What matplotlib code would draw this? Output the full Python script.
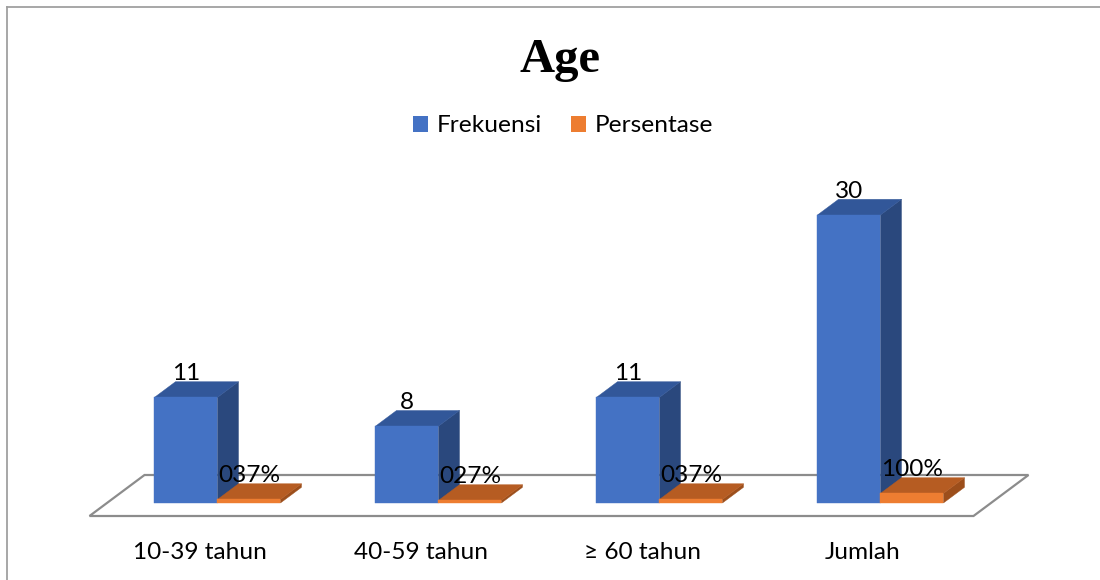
import matplotlib
matplotlib.use("Agg")
import matplotlib.pyplot as plt
import matplotlib.transforms as mtransforms
from matplotlib.patches import Polygon, Patch
from matplotlib.lines import Line2D

# ---- data ----
categories = ["10-39 tahun", "40-59 tahun", "≥ 60 tahun", "Jumlah"]
frekuensi = [11, 8, 11, 30]
persentase = [0.37, 0.27, 0.37, 1.00]
series_names = ["Frekuensi", "Persentase"]
chart_title = "Age"

# ---- style ----
TEXT_FONT = ["Lato", "DejaVu Sans"]
TITLE_FONT = ["Liberation Serif", "DejaVu Serif"]
TEXT_SIZE = 17.6
BLUE = {"front": "#4472C4", "top": "#325799", "side": "#2A487D"}
ORANGE = {"front": "#ED7D31", "top": "#B65C22", "side": "#9C4E1B"}
FLOOR_COLOR = "#8C8C8C"
BORDER_COLOR = "#A0A0A0"

W, H, DPI = 1100, 580, 100
fig = plt.figure(figsize=(W / DPI, H / DPI), dpi=DPI)
fig.patch.set_facecolor("white")
ax = fig.add_axes([0, 0, 1, 1])
ax.set_axis_off()

# axes scale: 221 px per category, 9.6 px per value unit
PX_CAT, PX_VAL = 221.0, 9.6
ORIGIN_X, ORIGIN_Y = 200.0, 64.0  # pixel position of (category 0, value 0) on the floor front
ax.set_xlim(-ORIGIN_X / PX_CAT, (W - ORIGIN_X) / PX_CAT)
ax.set_ylim(-ORIGIN_Y / PX_VAL, (H - ORIGIN_Y) / PX_VAL)

# oblique projection of the depth axis (z = 0 front of floor, z = 1 back)
DEPTH_X = 55.0 / PX_CAT
DEPTH_Y = 41.0 / PX_VAL


def proj(x, y, z):
    return (x + z * DEPTH_X, y + z * DEPTH_Y)


# floor
x_lo, x_hi = -0.5, len(categories) - 0.5
floor = [proj(x_lo, 0, 0), proj(x_hi, 0, 0), proj(x_hi, 0, 1), proj(x_lo, 0, 1)]
ax.add_patch(Polygon(floor, closed=True, facecolor="white",
                     edgecolor=FLOOR_COLOR, linewidth=1.6, zorder=1))

Z0, Z1 = 0.317, 0.70
BAR_W = 0.285


def box(x0, x1, h, colors, z):
    front = [proj(x0, 0, Z0), proj(x1, 0, Z0), proj(x1, h, Z0), proj(x0, h, Z0)]
    top = [proj(x0, h, Z0), proj(x1, h, Z0), proj(x1, h, Z1), proj(x0, h, Z1)]
    side = [proj(x1, 0, Z0), proj(x1, 0, Z1), proj(x1, h, Z1), proj(x1, h, Z0)]
    for pts, key in ((side, "side"), (top, "top"), (front, "front")):
        ax.add_patch(Polygon(pts, closed=True, facecolor=colors[key],
                             edgecolor=colors[key], linewidth=0.3, zorder=z))


label_tr = mtransforms.offset_copy(ax.transData, fig=fig, y=17.5 * 72 / DPI, units="points")
for i, (f, p) in enumerate(zip(frekuensi, persentase)):
    box(i - BAR_W, i, f, BLUE, 2 + 2 * i)
    box(i, i + BAR_W, p, ORANGE, 3 + 2 * i)
    bx, by = proj(i - BAR_W / 2, f, Z0)
    ax.text(bx, by, f"{f}", transform=label_tr, ha="center", va="baseline",
            fontsize=TEXT_SIZE, family=TEXT_FONT, color="#000000", zorder=20)
    ox, oy = proj(i + BAR_W / 2, p, Z0)
    ax.text(ox, oy, f"{round(p * 100):03d}%", transform=label_tr, ha="center",
            va="baseline", fontsize=TEXT_SIZE, family=TEXT_FONT, color="#000000", zorder=20)

# category labels below the floor front edge
cat_tr = mtransforms.offset_copy(ax.transData, fig=fig, y=-43 * 72 / DPI, units="points")
for i, name in enumerate(categories):
    ax.text(i, 0, name, transform=cat_tr, ha="center", va="baseline",
            fontsize=TEXT_SIZE, family=TEXT_FONT, color="#000000")

# title
fig.text(560 / W, 1 - 72 / H, chart_title, ha="center", va="baseline",
         fontsize=35, fontweight="bold", family=TITLE_FONT, color="#000000")

# legend
handles = [Patch(facecolor=BLUE["front"], edgecolor="none"),
           Patch(facecolor=ORANGE["front"], edgecolor="none")]
fig.legend(handles, series_names, loc="center", bbox_to_anchor=(563 / W, 1 - 126 / H),
           ncol=2, frameon=False, prop={"family": TEXT_FONT, "size": TEXT_SIZE},
           handlelength=0.6, handleheight=0.6, handletextpad=0.35, columnspacing=1.2,
           borderpad=0, borderaxespad=0)

# chart border (top and left edges)
fig.add_artist(Line2D([7 / W, 1.0], [1 - 7 / H, 1 - 7 / H], transform=fig.transFigure,
                      color=BORDER_COLOR, linewidth=1.3))
fig.add_artist(Line2D([7 / W, 7 / W], [0.0, 1 - 7 / H], transform=fig.transFigure,
                      color=BORDER_COLOR, linewidth=1.3))

fig.savefig("out.png", dpi=DPI, facecolor="white")
